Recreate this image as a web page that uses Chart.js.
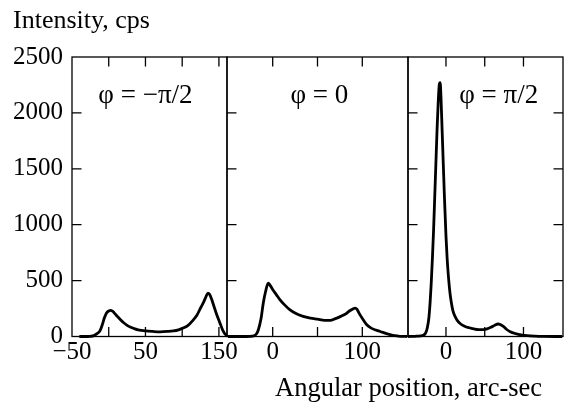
<!DOCTYPE html>
<html>
<head>
<meta charset="utf-8">
<script src="https://cdn.jsdelivr.net/npm/chart.js@4.4.1/dist/chart.umd.min.js"></script>
<style>
  html, body { margin: 0; padding: 0; background: #fff; }
  #wrap { position: relative; width: 570px; height: 409px; overflow: hidden; }
  #wrap canvas { position: absolute; left: 0; top: 0; }
  .label { position: absolute; font-family: 'Liberation Serif', 'Times New Roman', serif; font-size: 26px; line-height: 26px; color: #000; white-space: nowrap; }
</style>
</head>
<body>
<div id="wrap">
  <canvas id="p1" width="570" height="409"></canvas>
  <canvas id="p2" width="570" height="409"></canvas>
  <canvas id="p3" width="570" height="409"></canvas>
  <div class="label" style="left:13px; top:7px;">Intensity, cps</div>
  <div class="label" style="left:275px; top:374px; font-size:26.5px;">Angular position, arc-sec</div>
</div>
<script>
// y axis (shared)
const yTicks = [0, 500, 1000, 1500, 2000, 2500];

// panel 1: phi = -pi/2
const angle1 = [-40, -35, -25, -20, -16, -12, -9, -6, -3, 0, 3, 6, 9, 12, 16, 20, 25, 30, 35, 40, 50, 60, 70, 80, 88, 95, 102, 108, 114, 120, 125, 129, 132, 135, 137, 140, 143, 146, 149, 152, 155, 158, 161];
const counts1 = [0, 0, 2, 8, 25, 50, 100, 165, 210, 228, 233, 222, 200, 178, 150, 125, 100, 82, 70, 60, 50, 45, 42, 45, 50, 60, 78, 100, 140, 190, 255, 305, 350, 388, 380, 335, 275, 215, 160, 110, 60, 25, 5];
const xTicks1 = [-50, 0, 50, 100, 150];
const xLabels1 = [-50, 50, 150];

// panel 2: phi = 0
const angle2 = [-50, -35, -25, -21, -18, -16, -13, -10.5, -8, -5, -3, 0, 4, 8, 13, 19, 26, 34, 42, 50, 58, 64, 70, 76, 82, 86, 90, 92, 94, 97, 101, 105, 110, 115, 120, 127, 134, 140, 145, 150];
const counts2 = [0, 0, 2, 6, 25, 60, 160, 300, 400, 478, 460, 420, 375, 330, 285, 240, 205, 180, 165, 155, 145, 145, 160, 180, 205, 230, 248, 254, 245, 200, 150, 105, 75, 58, 45, 25, 10, 4, 1, 0];
const xTicks2 = [0, 50, 100];
const xLabels2 = [0, 100];

// panel 3: phi = pi/2
const angle3 = [-49, -40, -33, -29, -26, -24, -22, -20.5, -19, -17.5, -16, -14.5, -13, -11.5, -10, -8.5, -7.5, -6.5, -5, -3.5, -2, 0, 1.5, 3, 5, 7, 9, 12, 15, 19, 24, 30, 36, 42, 48, 53, 58, 63, 67, 70, 74, 78, 83, 90, 97, 105, 115, 125, 150];
const counts3 = [0, 2, 5, 12, 35, 80, 170, 300, 480, 700, 950, 1250, 1550, 1850, 2100, 2260, 2270, 2150, 1850, 1550, 1250, 900, 700, 550, 400, 300, 230, 175, 140, 112, 92, 78, 68, 62, 62, 68, 82, 100, 112, 108, 90, 65, 42, 25, 14, 7, 3, 1, 0];
const xTicks3 = [0, 50, 100];
const xLabels3 = [0, 100];

const panelTitles = ['φ = −π/2', 'φ = 0', 'φ = π/2'];

const FONT = "'Liberation Serif', 'Times New Roman', serif";
const TICK = 9.5;

function fmt(v) {
  return v < 0 ? '−' + Math.abs(v) : String(v);
}

// frame + inward ticks, drawn from the chart's own scales
const framePlugin = {
  id: 'frame',
  afterDraw(chart, args, opts) {
    const { ctx, chartArea: a, scales } = chart;
    const x = scales.x, y = scales.y;
    ctx.save();
    ctx.strokeStyle = '#000';
    ctx.lineWidth = 1.3;
    ctx.strokeRect(a.left, a.top, a.right - a.left, a.bottom - a.top);
    ctx.beginPath();
    yTicks.forEach((v) => {
      if (v <= 0 || v >= 2500) return;
      const py = y.getPixelForValue(v);
      ctx.moveTo(a.left, py);
      ctx.lineTo(a.left + TICK, py);
      if (opts.rightTicks) {
        ctx.moveTo(a.right, py);
        ctx.lineTo(a.right - TICK, py);
      }
    });
    opts.xTicks.forEach((v) => {
      const px = x.getPixelForValue(v);
      if (px <= a.left + 1 || px >= a.right - 1) return;
      ctx.moveTo(px, a.top);
      ctx.lineTo(px, a.top + TICK);
      ctx.moveTo(px, a.bottom);
      ctx.lineTo(px, a.bottom - TICK);
    });
    ctx.stroke();

    ctx.fillStyle = '#000';
    ctx.font = '27px ' + FONT;
    ctx.textAlign = 'center';
    ctx.textBaseline = 'middle';
    ctx.fillText(opts.title, x.getPixelForValue(opts.titleAt), y.getPixelForValue(opts.titleY));
    ctx.restore();
  },
};

function makePanel(id, angles, counts, xMin, xMax, xTicks, xLabels, left, right, showY, title, titleAt, rightTicks) {
  const points = angles.map((a, i) => ({ x: a, y: counts[i] }));
  return new Chart(document.getElementById(id), {
    type: 'line',
    data: {
      datasets: [{
        data: points,
        borderColor: '#000',
        borderWidth: 2.8,
        pointRadius: 0,
        cubicInterpolationMode: 'monotone',
        fill: false,
        clip: false,
      }],
    },
    options: {
      responsive: false,
      animation: false,
      devicePixelRatio: 1,
      events: [],
      layout: { padding: { left: showY ? 0 : left, right: 570 - right, top: 57, bottom: 0 } },
      plugins: {
        legend: { display: false },
        tooltip: { enabled: false },
        frame: { xTicks, title, titleAt, titleY: 2150, rightTicks },
      },
      scales: {
        x: {
          type: 'linear',
          min: xMin,
          max: xMax,
          afterBuildTicks: (s) => { s.ticks = xTicks.map((v) => ({ value: v })); },
          afterFit: (s) => { s.height = 409 - 336.5; },
          grid: { display: false, drawTicks: false, tickLength: 0 },
          border: { display: false },
          ticks: {
            autoSkip: false,
            maxRotation: 0,
            padding: 1,
            color: '#000',
            font: { family: FONT, size: 25 },
            callback: (v) => (xLabels.includes(v) ? fmt(v) : ''),
          },
        },
        y: {
          type: 'linear',
          display: showY,
          min: 0,
          max: 2500,
          afterBuildTicks: (s) => { s.ticks = yTicks.map((v) => ({ value: v })); },
          afterFit: (s) => { if (showY) s.width = left; },
          grid: { display: false, drawTicks: false, tickLength: 0 },
          border: { display: false },
          ticks: {
            padding: 9,
            color: '#000',
            font: { family: FONT, size: 25 },
            callback: (v) => String(v),
          },
        },
      },
    },
    plugins: [framePlugin],
  });
}

makePanel('p1', angle1, counts1, -50, 161, xTicks1, xLabels1, 72, 227, true, panelTitles[0], 50, false);
makePanel('p2', angle2, counts2, -51, 151, xTicks2, xLabels2, 227, 408, false, panelTitles[1], 52, false);
makePanel('p3', angle3, counts3, -49, 151, xTicks3, xLabels3, 408, 563, false, panelTitles[2], 68, true);
</script>
</body>
</html>
